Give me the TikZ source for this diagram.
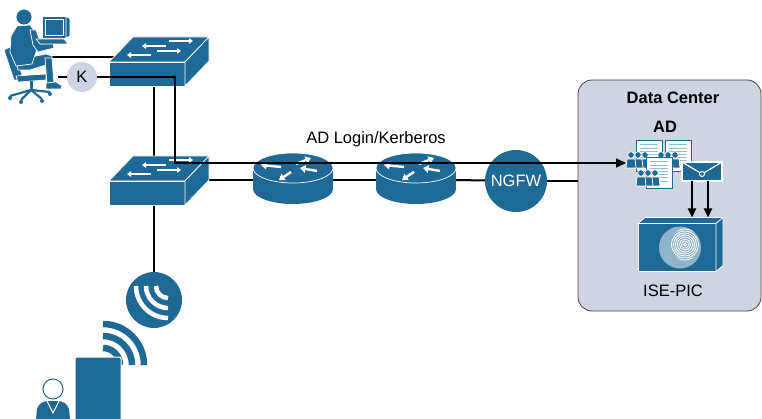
\documentclass[tikz,border=0pt]{standalone}
\usepackage{fontspec}
\setmainfont{Liberation Sans}
\usetikzlibrary{arrows.meta, positioning, backgrounds, calc}

\definecolor{ciscoblue}{RGB}{31,105,150}
\definecolor{dcfill}{RGB}{206,212,224}
\definecolor{dcedge}{RGB}{70,70,70}
\definecolor{kfill}{RGB}{206,212,226}

\tikzset{
  dev/.style={fill=ciscoblue, draw=white, line width=0.7pt},
  link/.style={line width=2pt, draw=black},
  krb/.style={link, -{Triangle[length=10pt, width=9pt]}},
  push/.style={link, -{Triangle[length=9pt, width=8pt]}},
  flow/.style={draw=white, line width=1.5pt, -{Triangle[length=4pt, width=5.5pt]}},
  bigflow/.style={draw=white, line width=2.4pt, -{Triangle[length=5.5pt, width=7.5pt]}},
  wave/.style={draw=white, line width=4.5pt},
  lbl/.style={inner sep=0pt, font=\fontsize{16.5}{19}\selectfont},
  kbadge/.style={circle, fill=kfill, minimum size=30pt, inner sep=0pt,
                 font=\fontsize{16.5}{19}\selectfont},
  fwnode/.style={circle, fill=ciscoblue, text=white, minimum size=62pt,
                 inner sep=0pt, font=\fontsize{16.5}{19}\selectfont},
  dcbox/.style={rectangle, rounded corners=14pt, fill=dcfill, draw=dcedge,
                line width=0.8pt},
  % icons, drawn with y pointing down
  switch/.pic={
    \path[dev] (-38,-12) rectangle (38,12);
    \path[dev] (-38,-12) -- (-14,-37) -- (62,-37) -- (38,-12) -- cycle;
    \path[dev] (38,-12) -- (62,-37) -- (62,-13) -- (38,12) -- cycle;
    \draw[flow] (19,-28) -- (-5,-28);
    \draw[flow] (22,-33) -- (46,-33);
    \draw[flow] (4,-19) -- (-20,-19);
    \draw[flow] (10,-23) -- (34,-23);
    \coordinate (-n) at (7,-37);
    \coordinate (-s) at (7,12);
    \coordinate (-w) at (-33,-17);
    \coordinate (-e) at (45,-13);
  },
  router/.pic={
    \path[fill=ciscoblue] (-40,0) rectangle (40,21);
    \path[fill=ciscoblue] (0,21) ellipse[x radius=40, y radius=15];
    \path[dev] (0,0) ellipse[x radius=40, y radius=15];
    \draw[bigflow] (-12,-1) -- (-32,-3);
    \draw[bigflow] (3,-4) -- (18,-10);
    \draw[bigflow] (24,3) -- (7,0);
    \draw[bigflow] (-2,4) -- (-14,12);
    \coordinate (-w) at (-40,12);
    \coordinate (-e) at (40,12);
  },
  accesspoint/.pic={
    \path[fill=ciscoblue] (0,0) circle[radius=28];
    \begin{scope}
      \clip (0,0) circle[radius=26];
      \foreach \r in {12,22,32}
        \draw[wave] (14,-14) ++(-\r,0) arc[start angle=180, end angle=90, radius=\r];
    \end{scope}
    \coordinate (-n) at (0,-28);
  },
  mobile/.pic={
    \foreach \r in {17,29,41}
      \draw[ciscoblue, line width=6.5pt] (5,-25) ++(0,-\r) arc[start angle=270, end angle=360, radius=\r];
    \path[fill=ciscoblue, draw=white, line width=1pt, rounded corners=2pt] (-23,-33) rectangle (23,35);
  },
  enduser/.pic={
    \path[fill=ciscoblue] (-17,31) -- (-16,20) .. controls (-14,14) and (-9,12) .. (-5,12)
      -- (5,12) .. controls (9,12) and (14,14) .. (16,20) -- (17,31) -- cycle;
    \draw[white, line width=1pt] (-6,12) -- (0,24) -- (6,12);
    \path[fill=white, draw=ciscoblue, line width=1pt] (0,0) circle[radius=10];
  },
  deskuser/.pic={
    % chair
    \path[dev] (-36,0) -- (-30,-3) -- (-18,24) -- (-21,30) -- (-26,30) -- cycle;
    \path[dev] (-24,26) -- (6,24) -- (6,30) -- (-22,32) -- cycle;
    \path[fill=ciscoblue] (-10,31) rectangle (-7,40);
    \foreach \lx/\ly in {-30/46, -19/50, 2/49, 10/42} {
      \draw[ciscoblue, line width=2.2pt] (-9,40) -- (\lx,\ly);
      \path[fill=ciscoblue] (\lx,\ly+2) circle[radius=2];
    }
    % user
    \path[dev] (-24,10) -- (6,4) -- (12,6) -- (12,13) -- (-10,20) -- (-22,20) -- cycle;
    \path[dev] (5,8) -- (12,8) -- (14,34) -- (7,34) -- cycle;
    \path[dev] (6,33) -- (16,32) -- (22,36) -- (21,39) -- (6,39) -- cycle;
    \path[dev] (-23,-24) -- (-10,-25) -- (-4,-17) -- (-2,-4) -- (-6,8) -- (-8,14)
      -- (-24,16) -- (-30,2) -- (-29,-14) -- cycle;
    \path[dev] (-16,-33) circle[radius=8];
    \path[dev] (-10,-20) -- (-4,-20) -- (1,-6) -- (13,-7) -- (14,-2) -- (-2,2) -- (-7,-5) -- cycle;
    % workstation
    \path[dev] (2,-34) rectangle (26,-12);
    \draw[white, line width=0.5pt] (5,-31) rectangle (23,-15);
    \path[dev] (26,-34) -- (30,-31) -- (30,-14) -- (26,-12) -- cycle;
    \path[dev] (-4,-11) -- (24,-11) -- (28,-6) -- (0,-6) -- cycle;
    \coordinate (-desk) at (5,7);
    \coordinate (-kb) at (18,27);
  },
  adoc/.pic={
    \path[fill=white, draw=ciscoblue, line width=0.8pt] (0,0) rectangle (26,31);
    \foreach \k in {0,...,6}
      \draw[ciscoblue!45, line width=1pt] (4,5+3.2*\k) -- (22,5+3.2*\k);
  },
  crowd/.pic={
    \foreach \dx in {14,7,0} {
      \path[dev] (\dx-5,13) -- (\dx-4,4) -- (\dx+4,4) -- (\dx+5,13) -- cycle;
      \path[dev] (\dx,0) circle[radius=3.3];
    }
  },
  directory/.pic={
    \pic at (-29,-25) {adoc};
    \pic at (-34,-10) {crowd};
    \pic at (0,-25) {adoc};
    \pic at (-4,-10) {crowd};
    \pic at (-19,-8) {adoc};
    \pic at (-24,8) {crowd};
    % mail
    \path[fill=ciscoblue, draw=white, line width=1.2pt] (17,-3) rectangle (57,16);
    \draw[white, line width=1.2pt] (17,-3) -- (37,9) -- (57,-3);
    \path[fill=ciscoblue, draw=white, line width=1pt] (37,9) circle[radius=2.5];
    \coordinate (-w) at (-39,-2);
    \coordinate (-m1) at (27,16);
    \coordinate (-m2) at (43,16);
  },
  isebox/.pic={
    \path[dev] (-39,-24) rectangle (39,24);
    \path[dev] (-39,-24) -- (-32,-30) -- (46,-30) -- (39,-24) -- cycle;
    \path[dev] (39,-24) -- (46,-30) -- (46,18) -- (39,24) -- cycle;
    \path[fill=ciscoblue!50!white] (3,0) circle[radius=21];
    \begin{scope}
      \clip (8,-3) ellipse[x radius=14, y radius=16];
      \foreach \r in {1.5,3.5,...,20}
        \draw[white, line width=0.8pt] (8,-3) circle[radius=\r];
    \end{scope}
    \coordinate (-n1) at (15,-30);
    \coordinate (-n2) at (31,-30);
  },
}

\begin{document}
\begin{tikzpicture}[x=1pt, y=-1pt]
  \useasboundingbox (0,0) rectangle (762,419);

  \begin{scope}[on background layer]
    \node[dcbox, minimum width=183pt, minimum height=231pt] (dc) at (669.5,195.5) {};
  \end{scope}

  % campus side
  \pic (user) at (40,50) {deskuser};
  \node[kbadge] (k) at (82,77) {K};
  \pic (swtop) at (147,74) {switch};
  \pic (swbot) at (147,193) {switch};
  \pic (ap) at (154,300) {accesspoint};
  \pic (tab) at (98,390) {mobile};
  \pic (guest) at (53,389) {enduser};

  % WAN path
  \pic (r1) at (293,168) {router};
  \pic (r2) at (416,168) {router};
  \node[fwnode] (ngfw) at (516,181) {NGFW};

  % data center
  \node[lbl, font=\fontsize{16.5}{19}\selectfont\bfseries] (dctitle) at (673,97.5) {Data Center};
  \node[lbl, font=\fontsize{16.5}{19}\selectfont\bfseries] (adtitle) at (665,127) {AD};
  \pic (ad) at (665,165) {directory};
  \pic (ise) at (677,247.5) {isebox};
  \node[lbl] (isetitle) at (673,291) {ISE-PIC};

  \begin{scope}[on background layer]
    \draw[link] (user-desk) -- (swtop-w);
    \draw[link] (user-kb) -- (k);
    \draw[link] (swtop-s) -- (swbot-n);
    \draw[link] (swbot-s) -- (ap-n);
    \draw[link] (swbot-e) -- (r1-w);
    \draw[link] (r1-e) -- (r2-w);
    \draw[link] (r2-e) -- (ngfw);
    \draw[link] (ngfw) -- (ngfw -| dc.west);
  \end{scope}

  % kerberos ticket flow
  \node[lbl] (krbtitle) at (376,139) {AD Login/Kerberos};
  \coordinate (bend) at (175,163);
  \draw[krb] (k.east) -| (bend) -- (ad-w);
  \draw[push] (ad-m1) -- (ise-n1);
  \draw[push] (ad-m2) -- (ise-n2);
\end{tikzpicture}
\end{document}
